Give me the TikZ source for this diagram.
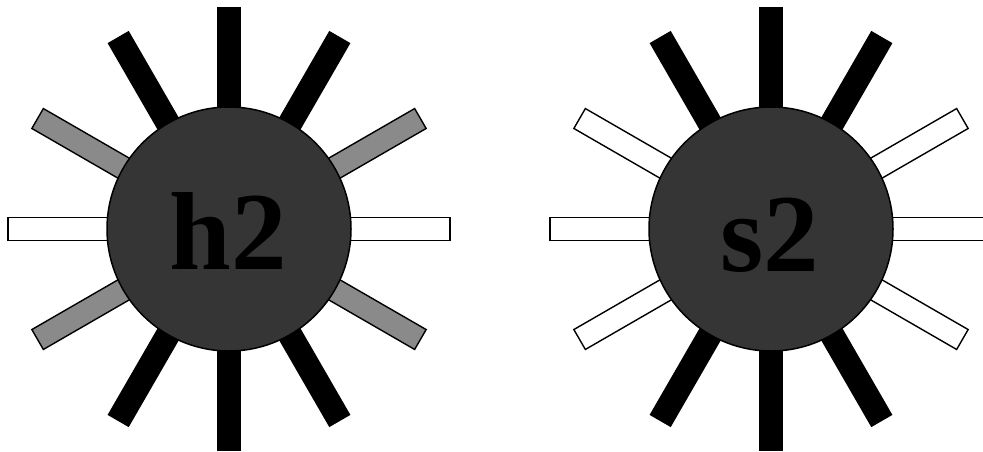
\documentclass[tikz,border=0pt]{standalone}
\usepackage{fontspec}
\setmainfont{Liberation Serif}
\begin{document}
\begin{tikzpicture}[x=1pt,y=-1pt,
  bar/.style={draw=black,line width=1.4pt},
  ball/.style={circle,draw=black,line width=1.5pt,fill=ballgray,minimum size=244pt,inner sep=0pt,
    font=\fontsize{111}{111}\selectfont\bfseries,text=black}]
\definecolor{ballgray}{HTML}{353535}
\definecolor{bargray}{HTML}{8A8A8A}
\useasboundingbox (0,0) rectangle (983,451);
\fill[white] (0,0) rectangle (983,451);
% left molecule bars
\begin{scope}[shift={(229,229)}]
  \foreach \a/\c in {90/black,270/black,60/black,120/black,240/black,300/black,30/bargray,150/bargray,210/bargray,330/bargray,0/white,180/white}
    \draw[bar,fill=\c,rotate=\a] (0,-11.5) rectangle (221,11.5);
\end{scope}
\begin{scope}[shift={(771,229)}]
  \foreach \a/\c in {90/black,270/black,60/black,120/black,240/black,300/black,30/white,150/white,210/white,330/white,0/white,180/white}
    \draw[bar,fill=\c,rotate=\a] (0,-11.5) rectangle (221,11.5);
\end{scope}
\node[ball] (h) at (229,229) {};
\node[ball] (s) at (771,229) {};
\node[font=\fontsize{111}{111}\selectfont\bfseries,inner sep=0pt,anchor=base] (ht) at (228,269) {h2};
\node[font=\fontsize{111}{111}\selectfont\bfseries,inner sep=0pt,anchor=base] (st) at (770,271) {s2};
\end{tikzpicture}
\end{document}
